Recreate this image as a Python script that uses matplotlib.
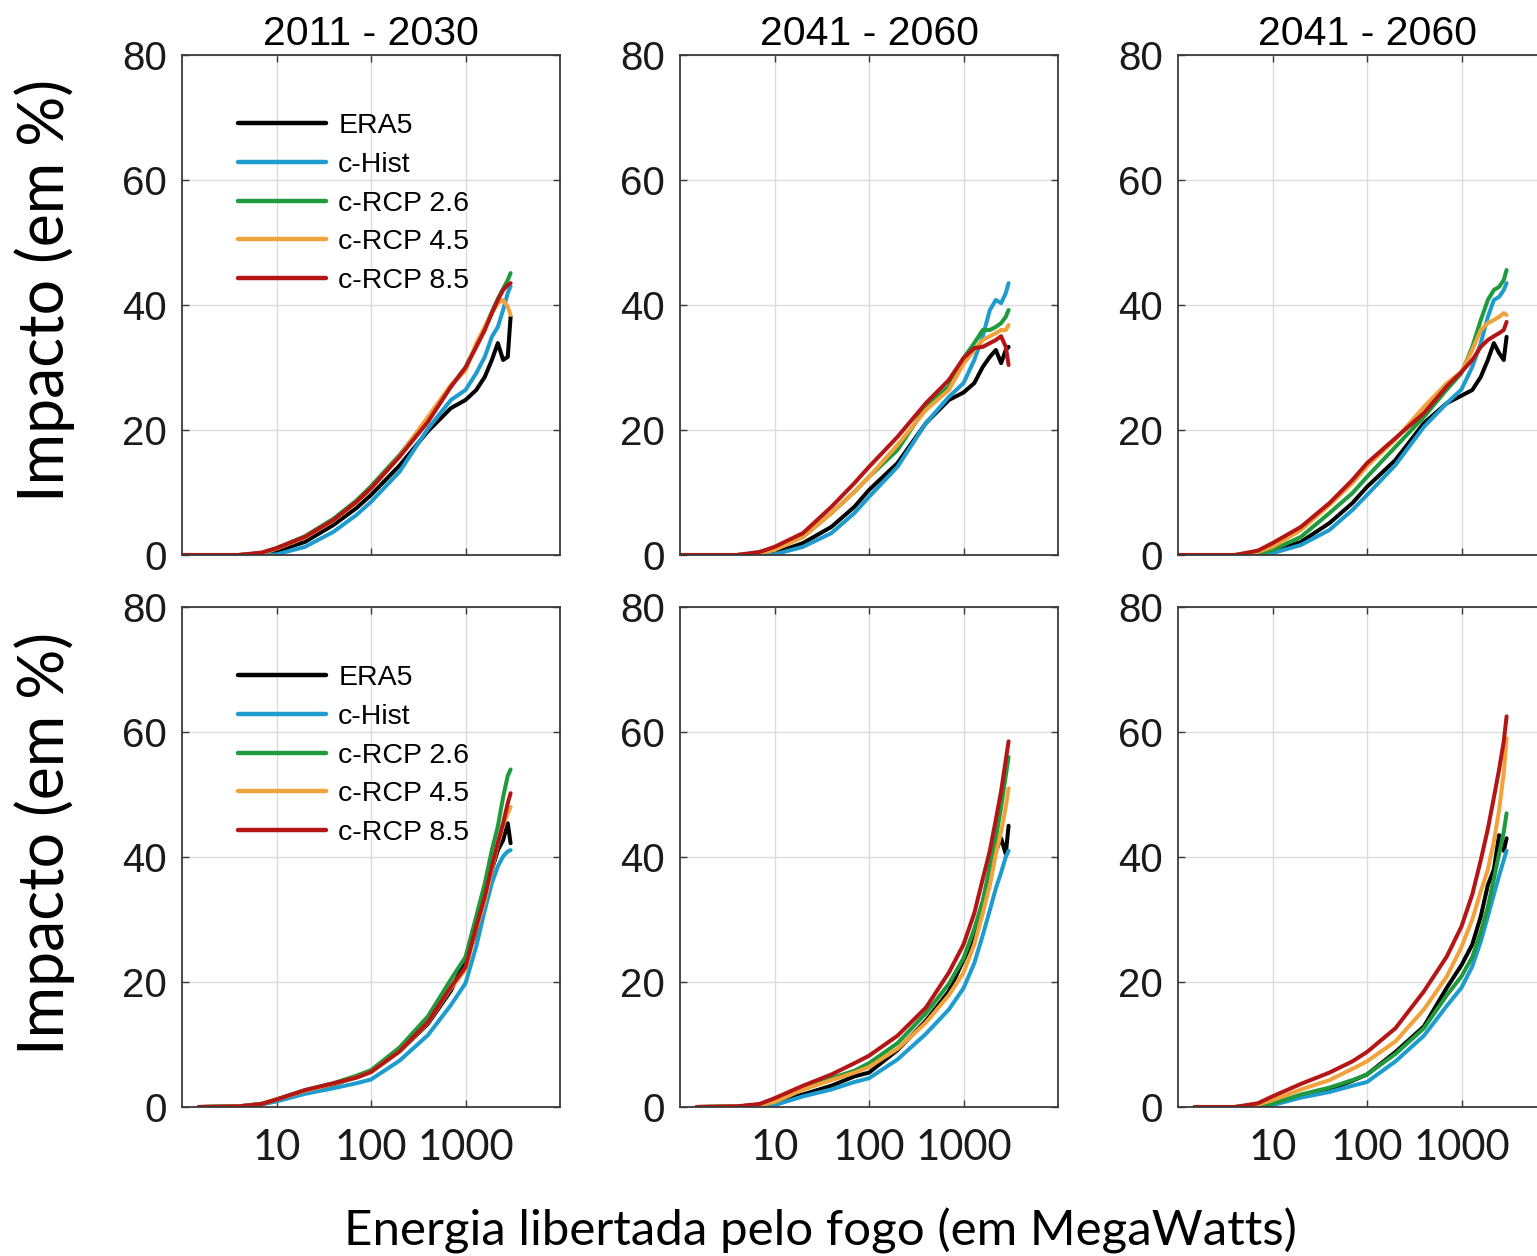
import matplotlib
matplotlib.use("Agg")
import matplotlib.pyplot as plt

plt.rcParams['font.family'] = ['Liberation Sans', 'DejaVu Sans']

x_top = [1, 4, 7, 10, 20, 40, 70, 100, 200, 400, 700, 1000, 1300, 1600, 1900, 2200, 2500, 2800, 3000]
x_bot = [1.5, 4, 7, 10, 20, 40, 70, 100, 200, 400, 700, 1000, 1300, 1600, 1900, 2200, 2500, 2800, 3000]

series = ["ERA5", "c-Hist", "c-RCP 2.6", "c-RCP 4.5", "c-RCP 8.5"]
colors = ["#000000", "#1f9ccf", "#1f9a3c", "#f2a23a", "#b41616"]
titles = ["2011 - 2030", "2041 - 2060", "2041 - 2060"]
xticks = [10, 100, 1000]
xtick_labels = ["10", "100", "1000"]
yticks = [0, 20, 40, 60, 80]

# top row
top_left = [
    [0, 0, 0.2, 0.6, 2.1, 4.8, 7.5, 9.6, 14.3, 19.8, 23.5, 24.8, 26.4, 28.5, 31.2, 33.9, 31.2, 31.7, 38.1],
    [0, 0, 0, 0.1, 1.3, 3.7, 6.4, 8.5, 13.3, 20.2, 24.8, 26.4, 29.1, 31.7, 34.9, 36.5, 39.2, 41.9, 43.0],
    [0, 0, 0.3, 1.1, 3.0, 5.8, 8.7, 11.0, 16.0, 21.8, 27.0, 30.0, 33.5, 36.3, 38.9, 41.0, 42.6, 44.0, 45.1],
    [0, 0, 0.3, 1.0, 2.8, 5.5, 8.4, 10.6, 15.8, 22.1, 27.2, 29.5, 33.9, 36.5, 38.7, 40.3, 40.8, 39.7, 38.4],
    [0, 0, 0.4, 1.1, 2.9, 5.6, 8.5, 10.7, 15.7, 21.3, 26.9, 30.0, 33.3, 36.0, 38.7, 40.8, 42.4, 43.2, 43.5],
]
top_mid = [
    [0, 0, 0.1, 0.3, 1.9, 4.5, 7.7, 10.4, 14.7, 21.1, 24.8, 26.0, 27.5, 30.1, 31.7, 32.8, 30.7, 32.8, 33.3],
    [0, 0, 0, 0.1, 1.3, 3.5, 6.7, 9.3, 14.1, 21.1, 25.3, 27.5, 31.2, 35.0, 39.2, 40.8, 40.3, 41.9, 43.5],
    [0, 0, 0.3, 0.9, 2.9, 6.7, 10.1, 12.5, 16.8, 23.7, 27.0, 31.5, 33.9, 36.0, 36.0, 36.5, 37.1, 38.1, 39.2],
    [0, 0, 0.3, 0.8, 2.9, 6.7, 10.1, 12.5, 17.6, 23.2, 26.4, 30.6, 32.8, 34.4, 35.0, 35.5, 36.0, 36.0, 36.8],
    [0, 0, 0.5, 1.3, 3.5, 7.7, 11.5, 14.1, 18.9, 24.3, 28.0, 31.5, 33.1, 33.3, 33.9, 34.4, 35.0, 33.3, 30.4],
]
top_right = [
    [0, 0, 0.1, 0.5, 2.1, 5.1, 8.3, 10.9, 15.2, 21.1, 24.3, 25.5, 26.4, 28.5, 31.2, 33.9, 32.3, 31.2, 34.9],
    [0, 0, 0, 0.3, 1.6, 4.0, 7.2, 9.6, 14.4, 20.5, 24.3, 26.5, 30.1, 33.9, 38.1, 40.8, 41.3, 42.4, 43.5],
    [0, 0, 0.2, 0.8, 2.9, 6.7, 9.9, 12.5, 17.3, 22.1, 26.5, 29.1, 33.3, 37.6, 40.8, 42.4, 42.9, 44.0, 45.6],
    [0, 0, 0.5, 1.3, 4.0, 8.0, 11.5, 14.2, 18.5, 23.7, 27.5, 29.3, 32.8, 36.0, 37.1, 37.6, 38.1, 38.7, 38.4],
    [0, 0, 0.7, 1.9, 4.5, 8.3, 12.0, 14.7, 18.7, 22.7, 27.0, 29.3, 31.2, 33.3, 34.4, 35.0, 35.5, 36.0, 37.3],
]
# bottom row
bot_left = [
    [0, 0.1, 0.5, 1.2, 2.6, 3.6, 4.8, 5.7, 8.9, 13.3, 18.6, 23.5, 27.8, 33.1, 37.9, 41.1, 42.7, 45.4, 42.2],
    [0, 0.1, 0.4, 0.9, 2.1, 3.0, 3.8, 4.4, 7.4, 11.5, 16.3, 19.8, 25.7, 31.5, 35.8, 38.5, 40.1, 40.9, 41.1],
    [0, 0.1, 0.5, 1.2, 2.7, 3.8, 5.0, 5.9, 9.5, 14.5, 20.4, 24.0, 30.5, 35.8, 41.1, 44.9, 49.6, 53.0, 54.0],
    [0, 0.1, 0.5, 1.2, 2.6, 3.7, 4.7, 5.6, 8.9, 13.5, 19.0, 22.0, 28.5, 33.0, 38.0, 42.0, 45.0, 47.0, 48.0],
    [0, 0.1, 0.5, 1.2, 2.7, 3.8, 4.7, 5.6, 8.9, 13.6, 19.2, 22.4, 28.9, 33.7, 38.5, 42.3, 45.4, 48.6, 50.2],
]
bot_mid = [
    [0, 0.1, 0.3, 0.8, 2.0, 3.4, 4.9, 5.5, 9.1, 13.8, 18.5, 23.5, 27.0, 32.0, 36.5, 41.0, 43.0, 40.5, 45.0],
    [0, 0, 0.1, 0.3, 1.7, 2.8, 4.0, 4.6, 7.6, 11.7, 15.6, 19.0, 23.0, 27.5, 31.5, 35.0, 37.5, 40.0, 41.0],
    [0, 0.1, 0.3, 0.8, 2.8, 4.6, 5.8, 7.0, 10.2, 15.0, 19.7, 23.8, 28.5, 33.0, 38.5, 43.0, 48.0, 53.0, 56.0],
    [0, 0.1, 0.3, 0.8, 2.8, 4.3, 5.5, 6.4, 9.3, 13.5, 17.9, 21.5, 26.0, 31.0, 35.5, 40.5, 44.0, 48.0, 51.0],
    [0, 0.1, 0.5, 1.4, 3.4, 5.2, 7.0, 8.2, 11.4, 15.9, 21.5, 26.0, 31.0, 36.5, 41.0, 46.0, 50.5, 55.5, 58.5],
]
bot_right = [
    [0, 0, 0.2, 0.5, 1.8, 2.8, 4.2, 5.2, 8.8, 12.9, 19.1, 22.7, 26.0, 30.5, 35.5, 38.0, 43.5, 41.0, 43.0],
    [0, 0, 0.1, 0.3, 1.5, 2.4, 3.4, 4.0, 7.3, 11.4, 16.2, 19.1, 22.5, 26.5, 30.5, 34.0, 37.0, 39.5, 41.0],
    [0, 0, 0.2, 0.5, 2.0, 3.1, 4.3, 5.2, 8.5, 12.6, 17.9, 20.9, 24.0, 28.0, 32.0, 36.5, 40.5, 44.0, 47.0],
    [0, 0, 0.4, 1.1, 2.8, 4.3, 6.1, 7.3, 10.5, 15.6, 20.9, 25.6, 30.0, 34.5, 38.0, 42.5, 47.5, 53.5, 59.0],
    [0, 0, 0.6, 1.7, 3.7, 5.5, 7.3, 8.8, 12.6, 18.5, 24.1, 28.9, 34.0, 39.5, 44.5, 49.5, 54.0, 58.5, 62.5],
]

W, H = 1537, 1256
fig = plt.figure(figsize=(W / 100, H / 100), dpi=100)

col_left = [182, 680, 1178]
row_top = [55, 607]
ax_w, ax_h = 378, 500

panels = [[top_left, top_mid, top_right], [bot_left, bot_mid, bot_right]]

for r in range(2):
    for c in range(3):
        rect = [col_left[c] / W, (H - row_top[r] - ax_h) / H, ax_w / W, ax_h / H]
        ax = fig.add_axes(rect)
        xs = x_top if r == 0 else x_bot
        for ys, name, col in zip(panels[r][c], series, colors):
            ax.plot(xs, ys, color=col, lw=2.9, label=name, solid_capstyle="round")
        ax.set_xscale("log")
        ax.set_xlim(1, 1e4)
        ax.set_ylim(0, 80)
        ax.set_xticks(xticks)
        ax.minorticks_off()
        ax.set_yticks(yticks)
        ax.grid(True, color="#dcdcdc", lw=1.0)
        ax.set_axisbelow(True)
        for sp in ax.spines.values():
            sp.set_color("#3a3a3a")
            sp.set_linewidth(1.3)
        ax.tick_params(direction="in", length=5, width=1, top=True, right=True,
                       colors="#3a3a3a", labelcolor="#1a1a1a", labelsize=29, pad=11)
        if r == 0:
            ax.set_xticklabels([])
            ax.set_title(titles[c], fontsize=29.5, pad=7)
        else:
            ax.set_xticklabels(xtick_labels, fontfamily="Lato", fontsize=30)
            ax.tick_params(axis="x", pad=16)
        if c == 0:
            leg = ax.legend(loc="upper left", bbox_to_anchor=(0.148, 0.884), frameon=False,
                            fontsize=20.5, handlelength=3.1, handletextpad=0.42,
                            labelspacing=0.45, borderpad=0, borderaxespad=0)
            for ln in leg.get_lines():
                ln.set_linewidth(3.2)

for yc in [290, 843]:
    fig.text(45 / W, 1 - yc / H, "Impacto (em %)", rotation=90, ha="center", va="center",
             fontfamily="Lato", fontsize=45)

fig.text(820 / W, 1 - 1231 / H, "Energia libertada pelo fogo (em MegaWatts)",
         ha="center", va="center", fontfamily="Lato", fontsize=35.5)

fig.savefig("out.png", dpi=100)
plt.close(fig)
